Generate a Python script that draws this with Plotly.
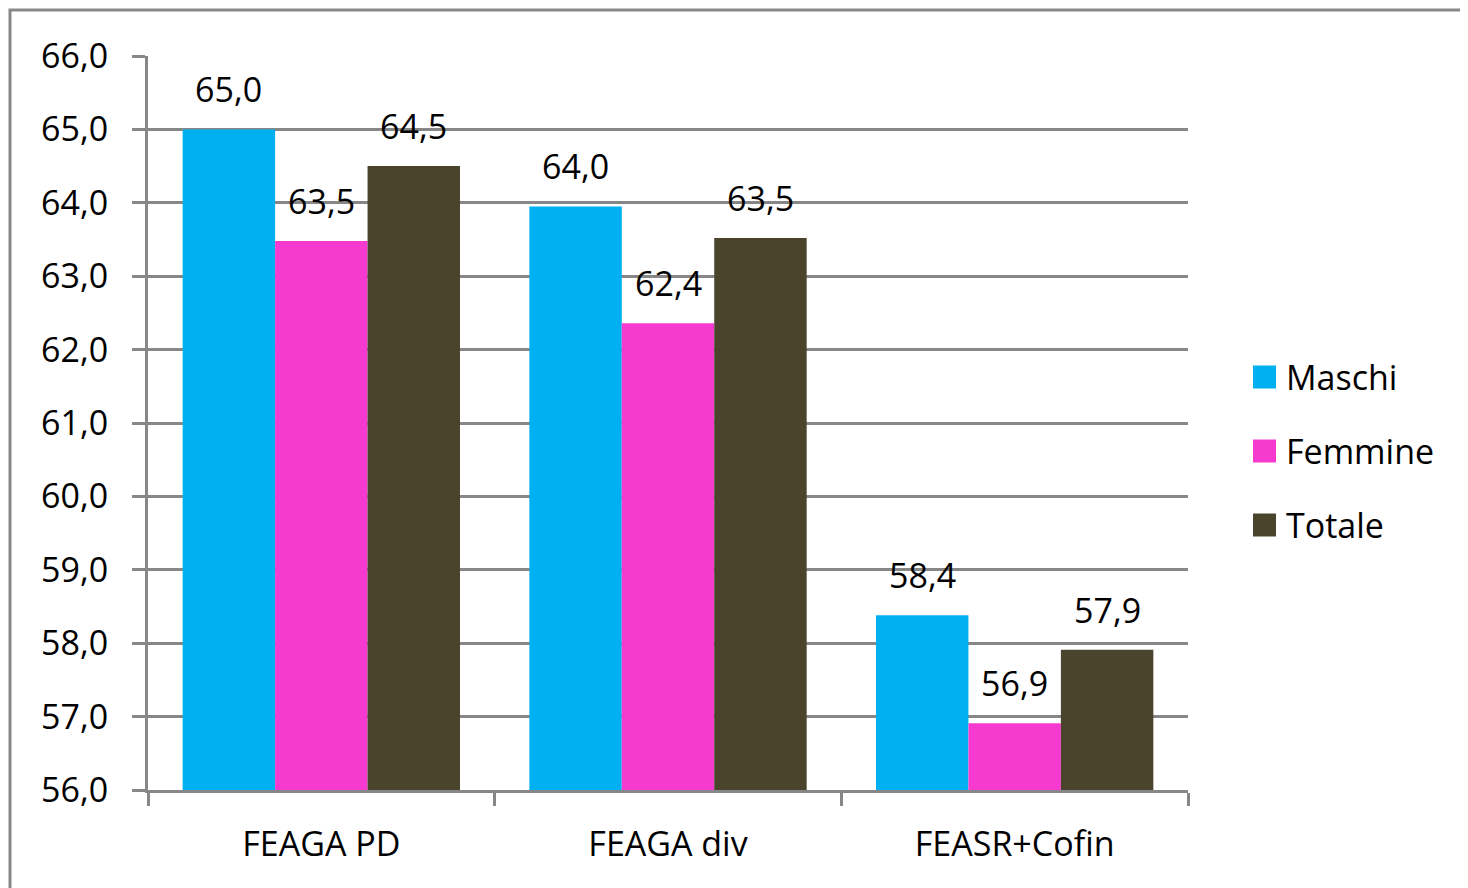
import plotly.graph_objects as go

# data
categories = ["FEAGA PD", "FEAGA div", "FEASR+Cofin"]
maschi = [65.0, 63.95, 58.38]
femmine = [63.48, 62.36, 56.91]
totale = [64.5, 63.52, 57.91]
series_names = ["Maschi", "Femmine", "Totale"]
series_colors = ["#00B0F0", "#F73ACF", "#4A442C"]
y_ticks = [56, 57, 58, 59, 60, 61, 62, 63, 64, 65, 66]

FONT = "Open Sans"
FS = 34
GRAY = "#878787"
OFF = 8  # page body margin
W, H = 1468 - OFF, 888 - OFF
L, R, T, B = 148 - OFF, 280, 56 - OFF, 98
PW, PH = W - L - R, H - T - B

def lab(v):
    return f"{v:.1f}".replace(".", ",")

fig = go.Figure()
all_series = [maschi, femmine, totale]
for name, vals, col in zip(series_names, all_series, series_colors):
    fig.add_trace(go.Bar(x=categories, y=vals, name=name, marker_color=col,
                         marker_line_width=0, showlegend=False))

# data labels above bars (Excel-style padding)
bar_px = PW / len(categories) * 0.8 / 3
annotations = []
for i, vals in enumerate(all_series):
    for cat, v in zip(categories, vals):
        annotations.append(dict(x=cat, y=v, text=lab(v), showarrow=False,
                                xshift=(i - 1) * bar_px, yshift=40,
                                yanchor="middle", font=dict(size=FS, color="black", family=FONT)))

# legend built by hand so the swatches match the big squares
shapes = []
leg_x0 = (1253 - OFF - L) / PW
sq = 23
for i, (name, col) in enumerate(zip(series_names, series_colors)):
    yc = 377 - OFF + i * 74
    yp = (H - B - yc) / PH
    shapes.append(dict(type="rect", xref="paper", yref="paper",
                       x0=leg_x0, x1=leg_x0 + sq / PW,
                       y0=yp - sq / 2 / PH, y1=yp + sq / 2 / PH,
                       fillcolor=col, line_width=0))
    annotations.append(dict(xref="paper", yref="paper", x=(1284 - OFF - L) / PW, y=yp,
                            text=name, showarrow=False, xanchor="left", yanchor="middle",
                            font=dict(size=FS, color="black", family=FONT)))

# chart frame (cut off at right/bottom like the original)
shapes.append(dict(type="rect", xref="paper", yref="paper",
                   x0=(10 - OFF - L) / PW, x1=1.6, y0=-0.5, y1=(H - B - (10 - OFF)) / PH,
                   line=dict(color=GRAY, width=3), fillcolor="rgba(0,0,0,0)", layer="below"))

fig.update_layout(
    width=W, height=H,
    margin=dict(l=L, r=R, t=T, b=B),
    paper_bgcolor="white", plot_bgcolor="white",
    barmode="group", bargap=0.2, bargroupgap=0,
    font=dict(family=FONT, size=FS, color="black"),
    showlegend=False,
    annotations=annotations, shapes=shapes,
    xaxis=dict(showline=True, linecolor=GRAY, linewidth=3,
               ticks="outside", tickson="boundaries", ticklen=13, tickwidth=2.5, tickcolor=GRAY,
               ticklabelstandoff=22, showgrid=False),
    yaxis=dict(range=[56, 66], tickvals=y_ticks, ticktext=[lab(v) for v in y_ticks],
               showline=True, linecolor=GRAY, linewidth=3,
               ticks="outside", ticklen=13, tickwidth=2.5, tickcolor=GRAY,
               showgrid=True, gridcolor=GRAY, gridwidth=2.5, zeroline=False,
               ticklabelstandoff=17),
)

fig.write_html("out.html")
